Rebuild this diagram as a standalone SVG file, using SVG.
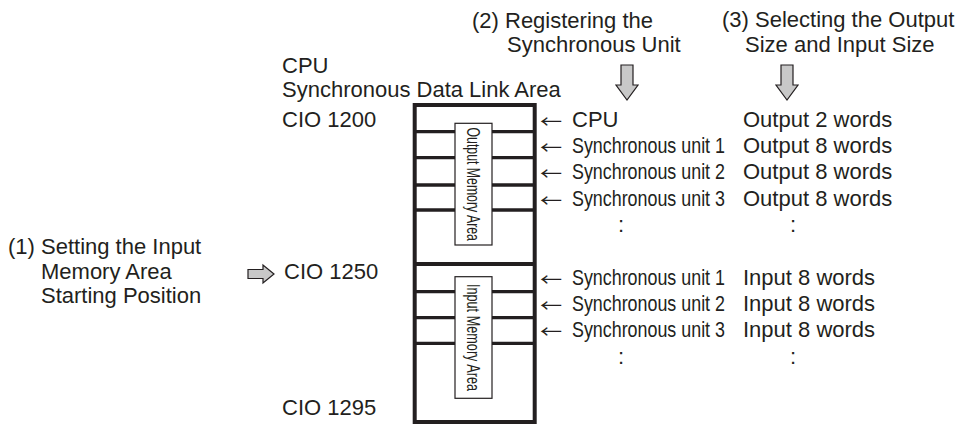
<svg xmlns="http://www.w3.org/2000/svg" width="965" height="425" viewBox="0 0 965 425">
<style>
  text { font-family: "Liberation Sans", Arial, sans-serif; font-size: 22px; fill: #231f20; }
  .ar { font-family: "Noto Sans CJK JP", "Noto Sans CJK SC", sans-serif; font-size: 17px; }
  .v { font-size: 19px; }
  .frame { fill: none; stroke: #231f20; stroke-width: 4; }
  .row { stroke: #231f20; stroke-width: 3.3; }
  .lbl { fill: #fff; stroke: #231f20; stroke-width: 1.2; }
  .garrow { fill: #c8c8c8; stroke: #231f20; stroke-width: 1.2; stroke-linejoin: miter; }
</style>

<g id="title">
  <text x="282" y="73">CPU</text>
  <text x="282" y="97">Synchronous Data Link Area</text>
</g>

<g id="addresses">
  <text x="282" y="127">CIO 1200</text>
  <text x="284" y="279">CIO 1250</text>
  <text x="282" y="415">CIO 1295</text>
</g>

<g id="step1">
  <text x="8" y="254">(1) Setting the Input</text>
  <text x="41" y="279">Memory Area</text>
  <text x="41" y="303">Starting Position</text>
</g>

<g id="step2">
  <text x="472" y="28">(2) Registering the</text>
  <text x="507" y="52">Synchronous Unit</text>
</g>

<g id="step3">
  <text x="722" y="27">(3) Selecting the Output</text>
  <text x="745" y="52">Size and Input Size</text>
</g>

<g id="memory">
  <rect class="frame" x="414.7" y="105" width="120" height="317"/>
  <line class="frame" x1="414.7" y1="264" x2="534.7" y2="264"/>
  <g id="output-area">
    <line class="row" x1="414.7" y1="131.7" x2="455" y2="131.7"/>
    <line class="row" x1="492" y1="131.7" x2="534.7" y2="131.7"/>
    <line class="row" x1="414.7" y1="157.7" x2="455" y2="157.7"/>
    <line class="row" x1="492" y1="157.7" x2="534.7" y2="157.7"/>
    <line class="row" x1="414.7" y1="185" x2="455" y2="185"/>
    <line class="row" x1="492" y1="185" x2="534.7" y2="185"/>
    <line class="row" x1="414.7" y1="210" x2="455" y2="210"/>
    <line class="row" x1="492" y1="210" x2="534.7" y2="210"/>
    <rect class="lbl" x="455" y="123.3" width="37" height="121.7"/>
    <text class="v" transform="translate(473.5,184.2) rotate(90) scale(0.647,1)" x="0" y="6.5" text-anchor="middle">Output Memory Area</text>
  </g>
  <g id="input-area">
    <line class="row" x1="414.7" y1="291.7" x2="455" y2="291.7"/>
    <line class="row" x1="492" y1="291.7" x2="534.7" y2="291.7"/>
    <line class="row" x1="414.7" y1="317.7" x2="455" y2="317.7"/>
    <line class="row" x1="492" y1="317.7" x2="534.7" y2="317.7"/>
    <line class="row" x1="414.7" y1="343.3" x2="455" y2="343.3"/>
    <line class="row" x1="492" y1="343.3" x2="534.7" y2="343.3"/>
    <rect class="lbl" x="455" y="276.7" width="37" height="121.6"/>
    <text class="v" transform="translate(473.5,337.5) rotate(90) scale(0.668,1)" x="0" y="6.5" text-anchor="middle">Input Memory Area</text>
  </g>
</g>

<g id="connectors">
  <polygon class="garrow" points="621,65 633,65 633,85 638,85 627,100 616,85 621,85"/>
  <polygon class="garrow" points="781,65 793,65 793,85 798,85 787,100 776,85 781,85"/>
  <polygon class="garrow" points="248,269.5 263,269.5 263,265 274,274 263,283 263,278.5 248,278.5"/>
</g>

<g id="output-rows">
  <text class="ar" transform="translate(540,127.5) scale(1.3,1)">←</text>
  <text x="572" y="127">CPU</text>
  <text x="743" y="127">Output 2 words</text>
  <text class="ar" transform="translate(540,153.5) scale(1.3,1)">←</text>
  <text transform="translate(572,153) scale(0.813,1)">Synchronous unit 1</text>
  <text x="743" y="153">Output 8 words</text>
  <text class="ar" transform="translate(540,179.5) scale(1.3,1)">←</text>
  <text transform="translate(572,179) scale(0.813,1)">Synchronous unit 2</text>
  <text x="743" y="179">Output 8 words</text>
  <text class="ar" transform="translate(540,206.5) scale(1.3,1)">←</text>
  <text transform="translate(572,206) scale(0.813,1)">Synchronous unit 3</text>
  <text x="743" y="206">Output 8 words</text>
  <text x="618" y="232">:</text>
  <text x="790" y="232">:</text>
</g>

<g id="input-rows">
  <text class="ar" transform="translate(540,285.5) scale(1.3,1)">←</text>
  <text transform="translate(572,285) scale(0.813,1)">Synchronous unit 1</text>
  <text x="743" y="285">Input 8 words</text>
  <text class="ar" transform="translate(540,311.5) scale(1.3,1)">←</text>
  <text transform="translate(572,311) scale(0.813,1)">Synchronous unit 2</text>
  <text x="743" y="311">Input 8 words</text>
  <text class="ar" transform="translate(540,337.5) scale(1.3,1)">←</text>
  <text transform="translate(572,337) scale(0.813,1)">Synchronous unit 3</text>
  <text x="743" y="337">Input 8 words</text>
  <text x="618" y="364">:</text>
  <text x="790" y="364">:</text>
</g>
</svg>
